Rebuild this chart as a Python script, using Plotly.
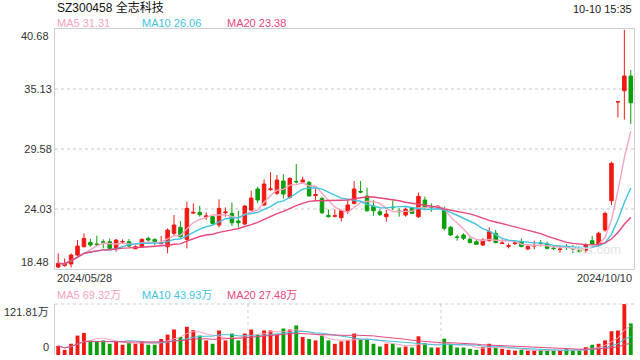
import pandas as pd
import plotly.graph_objects as go

# ---------------- data ----------------
title_text = "SZ300458 全志科技"
time_text = "10-10 15:35"
start_label = "2024/05/28"
end_label = "2024/10/10"
price_ticks = [18.48, 24.03, 29.58, 35.13, 40.68]
vol_ticks = [0, 121.81]
vol_tick_text = ["0", "121.81万"]
ma_windows = [5, 10, 20]
price_legend = ["MA5 31.31", "MA10 26.06", "MA20 23.38"]
vol_legend = ["MA5 69.32万", "MA10 43.93万", "MA20 27.48万"]

holidays = ["2024-06-10", "2024-09-16", "2024-09-17", "2024-10-01", "2024-10-02",
            "2024-10-03", "2024-10-04", "2024-10-07"]
dates = [d.strftime("%Y-%m-%d") for d in pd.bdate_range("2024-05-28", "2024-10-10")
         if d.strftime("%Y-%m-%d") not in holidays]

opens = [18.66, 18.80, 18.94, 19.77, 20.54, 20.94, 20.80, 21.00, 21.00, 20.39,
         20.98, 21.00, 20.36, 20.54, 21.31, 21.22, 20.82, 20.54, 21.78, 22.33,
         21.22, 23.65, 23.72, 23.29, 23.32, 22.55, 23.68, 23.63, 22.92, 22.64,
         23.93, 25.88, 24.40, 25.82, 25.48, 26.62, 25.11, 26.58, 26.52, 26.49,
         25.28, 25.01, 23.44, 23.36, 23.23, 23.78, 24.55, 25.66, 25.23, 24.30,
         23.78, 23.32, 24.20, 23.85, 23.47, 24.09, 23.32, 24.86, 24.22, 24.22,
         23.94, 22.34, 21.44, 21.63, 21.23, 21.01, 20.70, 21.10, 21.78, 20.84,
         20.59, 20.84, 21.01, 20.33, 20.60, 20.88, 20.79, 20.41, 20.28, 20.57,
         20.38, 20.24, 20.18, 21.10, 20.70, 22.09, 24.80, 33.93, 34.97, 36.33]
highs = [19.93, 19.46, 19.93, 21.16, 21.78, 21.28, 21.56, 21.22, 21.31, 21.25,
         21.22, 21.25, 20.67, 21.31, 21.47, 21.31, 21.53, 22.24, 23.47, 22.92,
         24.70, 24.55, 24.33, 23.72, 23.38, 24.92, 24.18, 24.64, 23.87, 24.40,
         25.72, 26.09, 26.77, 27.42, 27.17, 27.26, 26.96, 28.19, 27.02, 26.62,
         25.94, 25.17, 23.99, 23.99, 23.99, 24.86, 26.62, 26.62, 26.00, 24.86,
         24.00, 23.93, 24.80, 24.09, 24.18, 24.18, 25.55, 25.17, 24.55, 24.40,
         24.25, 22.46, 21.63, 21.78, 21.41, 21.16, 21.32, 22.34, 22.09, 21.22,
         20.86, 21.16, 21.32, 20.70, 21.10, 21.16, 21.01, 20.70, 20.55, 20.79,
         20.70, 20.55, 20.86, 21.53, 21.93, 23.78, 28.41, 33.95, 40.60, 36.88]
lows = [18.58, 18.69, 18.63, 19.68, 20.48, 20.54, 20.60, 20.39, 20.23, 20.08,
        20.79, 20.48, 20.30, 20.48, 21.00, 20.70, 20.76, 19.93, 21.53, 21.38,
        20.39, 23.56, 23.32, 23.01, 22.55, 22.33, 23.32, 22.45, 22.33, 22.52,
        23.84, 24.55, 24.30, 25.72, 25.32, 25.01, 25.01, 26.40, 26.40, 25.23,
        24.86, 23.56, 23.25, 23.25, 22.86, 23.56, 24.46, 25.48, 23.78, 23.41,
        23.38, 22.86, 23.93, 23.32, 23.32, 23.56, 23.20, 23.94, 23.78, 24.00,
        22.03, 21.53, 21.10, 21.16, 20.86, 20.70, 20.61, 21.01, 20.86, 20.79,
        20.39, 20.70, 20.49, 20.24, 20.30, 20.55, 20.30, 20.24, 19.99, 20.24,
        19.93, 19.99, 19.99, 20.70, 20.55, 21.93, 24.40, 32.51, 32.30, 31.89]
closes = [19.00, 18.94, 19.77, 20.60, 21.31, 20.70, 20.74, 20.94, 20.39, 21.16,
          21.02, 20.60, 20.54, 21.22, 21.16, 21.00, 20.91, 22.08, 22.55, 21.47,
          24.09, 23.72, 23.50, 23.38, 22.70, 24.09, 23.75, 22.76, 22.76, 24.30,
          25.04, 24.86, 26.34, 25.88, 26.71, 25.42, 26.86, 26.54, 26.71, 25.23,
          25.36, 23.69, 23.32, 23.40, 23.87, 24.40, 25.88, 25.60, 23.87, 23.87,
          23.53, 23.56, 24.16, 23.78, 24.00, 23.63, 25.20, 24.19, 24.16, 24.28,
          22.24, 21.63, 21.40, 21.32, 20.92, 20.76, 21.16, 21.93, 20.92, 20.88,
          20.63, 20.88, 20.55, 20.55, 20.66, 20.84, 20.39, 20.37, 20.32, 20.53,
          20.34, 20.09, 20.70, 20.79, 21.78, 23.63, 28.26, 33.95, 36.33, 33.86]
volumes = [21.9, 12.2, 26.8, 46.3, 52.8, 34.9, 32.5, 34.9, 26.8, 32.5,
           24.4, 28.4, 26.8, 32.5, 24.4, 24.4, 38.2, 48.7, 60.9, 43.0,
           67.4, 59.3, 46.3, 34.9, 26.8, 58.5, 34.9, 51.2, 34.9, 51.2,
           60.9, 48.7, 58.5, 58.5, 48.7, 63.3, 60.9, 70.6, 43.0, 38.2,
           34.9, 46.3, 34.9, 26.8, 32.5, 34.9, 51.2, 38.2, 36.5, 26.8,
           20.3, 26.8, 26.8, 17.9, 20.3, 17.9, 44.7, 28.4, 17.9, 17.9,
           39.0, 26.0, 17.9, 17.9, 14.6, 12.2, 18.7, 26.8, 17.9, 14.6,
           12.2, 10.6, 12.2, 10.6, 10.6, 12.2, 10.6, 10.6, 10.6, 14.6,
           10.6, 10.6, 18.7, 24.4, 26.8, 34.9, 56.8, 58.5, 121.81, 75.5]

# ---------------- styles ----------------
RED = "#f01a12"
GREEN = "#0b9e0b"
MA_COLORS = ["#f7a3c1", "#3fc3e2", "#e8467c"]
FONT = "Liberation Sans, Arial, Noto Sans CJK SC, sans-serif"
TXT = "#333333"

df = pd.DataFrame({"date": dates, "open": opens, "high": highs, "low": lows,
                   "close": closes, "vol": volumes})

fig = go.Figure()
fig.add_trace(go.Candlestick(
    x=df["date"], open=df["open"], high=df["high"], low=df["low"], close=df["close"],
    increasing=dict(line=dict(color=RED, width=1), fillcolor=RED),
    decreasing=dict(line=dict(color=GREEN, width=1), fillcolor=GREEN),
    whiskerwidth=0, xaxis="x", yaxis="y", showlegend=False, hoverinfo="skip"))

for w, c in zip(ma_windows, MA_COLORS):
    fig.add_trace(go.Scatter(x=df["date"], y=df["close"].rolling(w, min_periods=1).mean(),
                             mode="lines", line=dict(color=c, width=1.4),
                             xaxis="x", yaxis="y", showlegend=False, hoverinfo="skip"))

bar_colors = [RED if c >= o else GREEN for o, c in zip(df["open"], df["close"])]
fig.add_trace(go.Bar(x=df["date"], y=df["vol"], marker=dict(color=bar_colors, line=dict(width=0)),
                     width=0.6, xaxis="x2", yaxis="y2", showlegend=False, hoverinfo="skip"))
for w, c in zip(ma_windows, MA_COLORS):
    fig.add_trace(go.Scatter(x=df["date"], y=df["vol"].rolling(w, min_periods=1).mean(),
                             mode="lines", line=dict(color=c, width=1),
                             xaxis="x2", yaxis="y2", showlegend=False, hoverinfo="skip"))

H = 360
T, B = 29, 5
PH = H - T - B
def py(pix):
    return (H - B - pix) / PH

main_bottom = py(269)
vol_top = py(304)

fig.update_layout(
    width=640, height=360,
    margin=dict(l=55, r=6, t=T, b=B),
    paper_bgcolor="white", plot_bgcolor="white",
    font=dict(family=FONT, size=11, color=TXT),
    boxgap=0.22,
    xaxis=dict(type="category", domain=[0, 1], range=[-0.5, len(dates) - 0.5],
               showticklabels=False, ticks="", showgrid=False, zeroline=False,
               showline=True, mirror=True, linecolor="#cfcfcf", linewidth=1,
               rangeslider=dict(visible=False), anchor="y"),
    yaxis=dict(domain=[main_bottom, 1], range=[price_ticks[0], price_ticks[-1]],
               tickvals=price_ticks[1:-1], ticktext=[f"{v:.2f}" for v in price_ticks[1:-1]],
               showgrid=True, gridcolor="#e3e3e3", griddash="dot", gridwidth=2,
               zeroline=False, showline=True, mirror=True, linecolor="#cfcfcf",
               ticks="", tickfont=dict(size=11, color=TXT), anchor="x"),
    xaxis2=dict(type="category", domain=[0, 1], range=[-0.5, len(dates) - 0.5],
                matches="x", showticklabels=False, ticks="", showgrid=False,
                zeroline=False, showline=False, anchor="y2"),
    yaxis2=dict(domain=[0, vol_top], range=[vol_ticks[0], vol_ticks[1]],
                showticklabels=False, ticks="", showgrid=False, zeroline=False,
                showline=True, linecolor="#cfcfcf", anchor="x2"),
    bargap=0.4,
)

shapes = []
shapes.append(dict(type="line", xref="x2 domain", yref="y2 domain", x0=0, x1=1, y0=1, y1=1,
                   line=dict(color="#cfcfcf", width=1, dash="dot")))
for f in (1 / 3, 2 / 3):
    shapes.append(dict(type="line", xref="x2 domain", yref="y2 domain", x0=f, x1=f, y0=0, y1=1,
                       line=dict(color="#cfcfcf", width=1, dash="dot")))
fig.update_layout(shapes=shapes)

ann = []
ann.append(dict(text=title_text, xref="paper", yref="paper", x=0, y=py(8), xanchor="left",
                yanchor="middle", showarrow=False, font=dict(size=12, color="#111")))
ann.append(dict(text=time_text, xref="paper", yref="paper", x=1, y=py(9), xanchor="right",
                yanchor="middle", showarrow=False, font=dict(size=11, color="#222")))
legend_x = [55, 140, 225]
for txt, c, lx in zip(price_legend, MA_COLORS, legend_x):
    ann.append(dict(text=txt, xref="paper", yref="paper", x=(lx - 55) / 579, y=py(23),
                    xanchor="left", yanchor="middle", showarrow=False, font=dict(size=11, color=c)))
for txt, c, lx in zip(vol_legend, MA_COLORS, legend_x):
    ann.append(dict(text=txt, xref="paper", yref="paper", x=(lx - 55) / 579, y=py(295),
                    xanchor="left", yanchor="middle", showarrow=False, font=dict(size=11, color=c)))
# top / bottom price labels sit inside the frame edges
ann.append(dict(text=f"{price_ticks[-1]:.2f}", xref="paper", yref="y", x=0, y=price_ticks[-1],
                xanchor="right", yanchor="top", xshift=-4, yshift=1, showarrow=False,
                font=dict(size=11, color=TXT)))
ann.append(dict(text=f"{price_ticks[0]:.2f}", xref="paper", yref="y", x=0, y=price_ticks[0],
                xanchor="right", yanchor="bottom", xshift=-4, yshift=-1, showarrow=False,
                font=dict(size=11, color=TXT)))
ann.append(dict(text=vol_tick_text[1], xref="paper", yref="y2", x=0, y=vol_ticks[1],
                xanchor="right", yanchor="top", xshift=-4, yshift=0, showarrow=False,
                font=dict(size=11, color=TXT)))
ann.append(dict(text=vol_tick_text[0], xref="paper", yref="y2", x=0, y=vol_ticks[0],
                xanchor="right", yanchor="bottom", xshift=-4, yshift=0, showarrow=False,
                font=dict(size=11, color=TXT)))
ann.append(dict(text=start_label, xref="paper", yref="paper", x=0, y=py(278), xanchor="left",
                yanchor="middle", showarrow=False, font=dict(size=11, color=TXT)))
ann.append(dict(text=end_label, xref="paper", yref="paper", x=1, y=py(278), xanchor="right",
                yanchor="middle", showarrow=False, font=dict(size=11, color=TXT)))
ann.append(dict(text="sina.com", xref="paper", yref="paper", x=(623 - 55) / 579, y=py(249),
                xanchor="right", yanchor="middle", showarrow=False,
                font=dict(size=13, color="#e4e4e4")))
fig.update_layout(annotations=ann)

fig.write_html("out.html", config={"displayModeBar": False},
               post_script="document.body.style.margin='0';")
